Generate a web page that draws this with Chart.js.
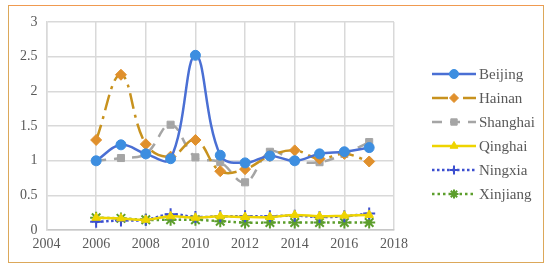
<!DOCTYPE html>
<html>
<head>
<meta charset="utf-8">
<script src="https://cdn.jsdelivr.net/npm/chart.js@4"></script>
<style>
  body{margin:0;background:#fff;}
  #wrap{position:relative;width:550px;height:271px;}
  #frame{position:absolute;left:8px;top:5px;width:536px;height:258px;border:1.5px solid #dca85a;border-top-color:#f09a50;box-sizing:border-box;}
  canvas{position:absolute;left:0;top:0;}
</style>
</head>
<body>
<div id="wrap">
  <div id="frame"></div>
  <canvas id="myChart" width="550" height="271"></canvas>
</div>
<script>
const years=[2006,2007,2008,2009,2010,2011,2012,2013,2014,2015,2016,2017];
const beijing=[1.0,1.23,1.1,1.03,2.52,1.08,0.97,1.07,1.0,1.1,1.13,1.19];
const hainan=[1.3,2.24,1.24,1.06,1.3,0.85,0.88,1.07,1.15,1.03,1.1,0.99];
const shanghai=[1.0,1.04,1.1,1.52,1.05,0.98,0.69,1.13,1.0,0.98,1.1,1.27];
const qinghai=[0.18,0.17,0.15,0.2,0.18,0.2,0.19,0.19,0.22,0.2,0.21,0.22];
const ningxia=[0.12,0.14,0.15,0.23,0.19,0.2,0.2,0.2,0.21,0.19,0.2,0.24];
const xinjiang=[0.18,0.17,0.15,0.15,0.15,0.13,0.11,0.11,0.11,0.11,0.11,0.11];
const xTicks=[2004,2006,2008,2010,2012,2014,2016,2018];
const yTicks=[0,0.5,1,1.5,2,2.5,3];

const pts=(vals)=>vals.map((v,i)=>({x:years[i],y:v}));
const font={family:"'Liberation Serif', 'Times New Roman', serif",size:14};

const mk=(label,vals,line,marker,style,dash,width,radius)=>({
    label:label,
    data:pts(vals),
    borderColor:line,
    backgroundColor:marker,
    pointBackgroundColor:marker,
    pointBorderColor:marker,
    pointStyle:style,
    pointRadius:radius,
    pointBorderWidth:style=='cross'||style=='star'?2:1,
    borderDash:dash,
    borderWidth:width,
    tension:0.4
});

const datasets=[
    mk('Beijing',beijing,'#4a6fd4','#3d8ee0','circle',[],2.5,5),
    mk('Hainan',hainan,'#c8921e','#e0902c','rectRot',[16,6,3,6],2.5,5.5),
    mk('Shanghai',shanghai,'#a5a5a5','#a5a5a5','rect',[10,8],2.5,5),
    mk('Qinghai',qinghai,'#eed400','#eed400','triangle',[],2.5,5),
    mk('Ningxia',ningxia,'#3c4fd0','#3c4fd0','cross',[2.5,2.5],2.5,6),
    mk('Xinjiang',xinjiang,'#5c9e2c','#5c9e2c','star',[2.5,3],2.5,6)
];

const sideLegend={
    id:'sideLegend',
    afterDraw(chart){
        const ctx=chart.ctx;
        const x0=432, x1=476, y0=74, dy=24;
        chart.data.datasets.forEach((ds,i)=>{
            const y=y0+i*dy;
            ctx.save();
            ctx.strokeStyle=ds.borderColor;
            ctx.lineWidth=ds.borderWidth;
            ctx.setLineDash(ds.borderDash);
            ctx.beginPath();ctx.moveTo(x0,y);ctx.lineTo(x1,y);ctx.stroke();
            ctx.setLineDash([]);
            ctx.fillStyle=ds.pointBackgroundColor;
            ctx.strokeStyle=ds.pointBorderColor;
            ctx.lineWidth=ds.pointBorderWidth;
            Chart.helpers.drawPoint(ctx,{pointStyle:ds.pointStyle,radius:4.5,rotation:0,borderWidth:ds.pointBorderWidth},(x0+x1)/2,y);
            ctx.fillStyle='#595959';
            ctx.font="15px 'Liberation Serif', serif";
            ctx.textBaseline='middle';
            ctx.fillText(ds.label,x1+3,y+1);
            ctx.restore();
        });
    }
};

var ctx=document.getElementById('myChart').getContext('2d');
var myChart=new Chart(ctx,{
    type:'line',
    data:{datasets:datasets},
    options:{
        responsive:false,
        animation:false,
        layout:{padding:{left:11,right:156,top:22,bottom:12}},
        plugins:{legend:{display:false},tooltip:{enabled:false}},
        scales:{
            x:{
                type:'linear',min:2004,max:2018,
                afterBuildTicks:(ax)=>{ax.ticks=xTicks.map(v=>({value:v}));},
                ticks:{font:font,color:'#595959',maxRotation:0,padding:6,callback:(v)=>String(v)},
                grid:{color:'#d9d9d9',lineWidth:1.5,drawTicks:false},
                border:{color:'#c8c8c8',width:1.5}
            },
            y:{
                min:0,max:3,
                afterBuildTicks:(ax)=>{ax.ticks=yTicks.map(v=>({value:v}));},
                ticks:{font:font,color:'#595959',padding:9,callback:(v)=>String(v)},
                grid:{color:'#d9d9d9',lineWidth:1.5,drawTicks:false},
                border:{color:'#d9d9d9',width:1.5}
            }
        }
    },
    plugins:[sideLegend]
});
</script>
</body>
</html>
